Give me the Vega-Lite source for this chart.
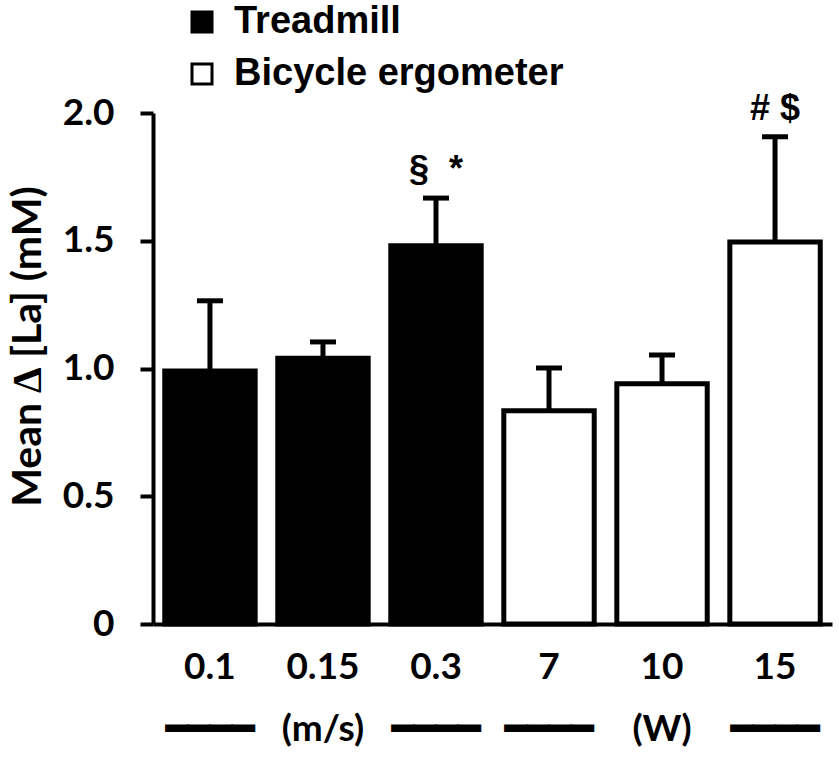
{
  "$schema": "https://vega.github.io/schema/vega-lite/v6.json",
  "autosize": "none",
  "padding": {"left": 153, "top": 113, "right": 7, "bottom": 135},
  "width": 679,
  "height": 511,
  "background": "white",
  "config": {
    "view": {"stroke": null},
    "font": "Lato"
  },
  "data": {
    "values": [
      {"cat": "0.1|━━━━", "mode": "Treadmill", "mean": 0.99, "upper": 1.265, "note": ""},
      {"cat": "0.15|(m/s)", "mode": "Treadmill", "mean": 1.04, "upper": 1.104, "note": ""},
      {"cat": "0.3|━━━━", "mode": "Treadmill", "mean": 1.48, "upper": 1.667, "note": "§ \u00a0*"},
      {"cat": "7|━━━━", "mode": "Bicycle ergometer", "mean": 0.835, "upper": 1.002, "note": ""},
      {"cat": "10|(W)", "mode": "Bicycle ergometer", "mean": 0.94, "upper": 1.053, "note": ""},
      {"cat": "15|━━━━", "mode": "Bicycle ergometer", "mean": 1.495, "upper": 1.907, "note": "# $"}
    ]
  },
  "encoding": {
    "x": {
      "field": "cat",
      "type": "nominal",
      "sort": null,
      "scale": {"paddingInner": 0.2, "paddingOuter": 0.104},
      "axis": {
        "title": null,
        "labelAngle": 0,
        "labelExpr": "split(datum.label, '|')",
        "labelFont": "Lato",
        "labelFontWeight": "bold",
        "labelFontSize": 37,
        "labelColor": "black",
        "labelLineHeight": 62,
        "labelBaseline": "top",
        "labelPadding": 25,
        "ticks": false,
        "domainColor": "black",
        "domainWidth": 4
      }
    }
  },
  "layer": [
    {
      "mark": {"type": "bar", "stroke": "black", "strokeWidth": 5},
      "encoding": {
        "y": {
          "field": "mean",
          "type": "quantitative",
          "scale": {"domain": [0, 2]},
          "axis": {
            "title": "Mean ∆ [La] (mM)",
            "titleFont": "Lato",
            "titleFontWeight": "bold",
            "titleFontSize": 41,
            "titleColor": "black",
            "titleAngle": -90,
            "titleX": -125,
            "titleY": 233,
            "titleAlign": "center",
            "titleBaseline": "middle",
            "values": [0, 0.5, 1, 1.5, 2],
            "labelExpr": "datum.value == 0 ? '0' : format(datum.value, '.1f')",
            "labelFont": "Lato",
            "labelFontWeight": "bold",
            "labelFontSize": 37,
            "labelColor": "black",
            "labelPadding": 26,
            "grid": false,
            "tickSize": 13,
            "tickWidth": 4,
            "tickColor": "black",
            "domainColor": "black",
            "domainWidth": 4
          }
        },
        "fill": {
          "field": "mode",
          "type": "nominal",
          "scale": {"domain": ["Treadmill", "Bicycle ergometer"], "range": ["black", "white"]},
          "legend": {
            "title": null,
            "orient": "none",
            "legendX": 30,
            "legendY": -110,
            "padding": 0,
            "symbolType": "square",
            "symbolSize": 400,
            "symbolStrokeColor": "black",
            "symbolStrokeWidth": 3,
            "labelFont": "Liberation Sans",
            "labelFontWeight": "bold",
            "labelFontSize": 38,
            "labelColor": "black",
            "labelLimit": 1000,
            "labelOffset": 13,
            "rowPadding": 14
          }
        }
      }
    },
    {
      "mark": {"type": "rule", "color": "black", "strokeWidth": 5},
      "encoding": {
        "y": {"field": "mean", "type": "quantitative"},
        "y2": {"field": "upper"}
      }
    },
    {
      "mark": {"type": "tick", "color": "black", "opacity": 1, "thickness": 5, "size": 26, "orient": "horizontal"},
      "encoding": {
        "y": {"field": "upper", "type": "quantitative"}
      }
    },
    {
      "mark": {"type": "text", "font": "Liberation Sans", "fontWeight": "bold", "fontSize": 36, "baseline": "middle", "dy": -28, "color": "black"},
      "encoding": {
        "y": {"field": "upper", "type": "quantitative"},
        "text": {"field": "note"}
      }
    }
  ]
}
